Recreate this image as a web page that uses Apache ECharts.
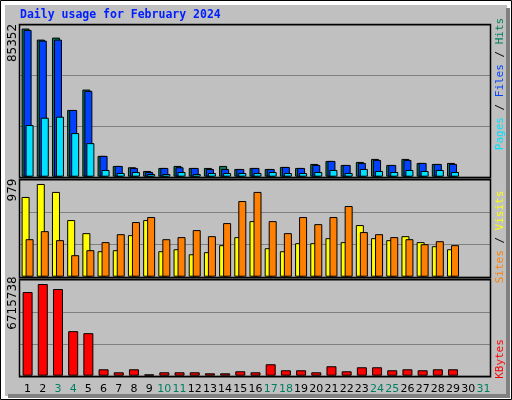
<!DOCTYPE html>
<html><head><meta charset="utf-8">
<script src="https://cdn.jsdelivr.net/npm/echarts@6/dist/echarts.min.js"></script>
<style>html,body{margin:0;padding:0;background:#fff}#c{width:512px;height:400px}</style>
</head><body><div id="c"></div>
<script>
const days = Array.from({length:31},(_,i)=>String(i+1));
const weekend = ['3','4','10','11','17','18','24','25','31'];
const hits  = [85352,78980,80130,38450,50200,11990,6200,5440,3300,5040,6200,5040,5040,6200,4460,5040,4460,5620,5040,7350,9090,6770,8510,10250,6770,10250,7930,7350,7930];
const files = [84530,78400,78980,38450,49450,11990,6200,5040,2720,5040,5440,5040,4460,4460,4460,5040,4460,5620,5040,6770,9090,6770,7930,9670,6770,9670,7930,7350,7350];
const pages = [29760,33990,34570,25130,19340,3880,2140,2720,1560,1560,2720,1560,2140,2140,2140,2140,2720,2140,2140,2720,3880,2140,4460,3300,2720,3880,3300,3880,2720];
const visits = [842,979,895,598,460,269,280,439,598,269,290,237,259,333,418,587,301,269,354,354,407,365,545,407,386,428,365,322,290];
const sites  = [396,481,386,227,280,365,449,577,630,396,418,492,428,566,799,895,587,460,630,555,630,746,471,449,418,396,343,375,333];
const kbytes = [6128000,6715738,6348000,3262000,3115000,470000,250000,470000,100000,250000,250000,250000,176000,176000,323000,250000,838000,397000,397000,250000,690000,323000,617000,617000,397000,470000,397000,470000,470000];
const maxLabels = ['85352','979','6715738'];

const chart = echarts.init(document.getElementById('c'));
const L=20, W=471;
const grids=[{top:25,h:151.7,max:87400},{top:180,h:96.7,max:1021},{top:280,h:95.7,max:7010000}];
const xAxis=grids.map((g,i)=>({type:'category',gridIndex:i,data:days,
  axisLine:{show:false},axisTick:{show:false},
  axisLabel:{show:i===2,margin:8,fontFamily:'DejaVu Sans',fontSize:11,
    color:v=>weekend.includes(v)?'#008060':'#000',interval:0}}));
const yAxis=grids.map((g,i)=>({type:'value',gridIndex:i,min:0,max:g.max,interval:g.max/3,
  axisLabel:{show:false},axisLine:{show:false},axisTick:{show:false},
  splitLine:{show:true,lineStyle:{color:'#808080',width:1}}}));
const bs={borderColor:'#000',borderWidth:1};
const series=[
  {type:'bar',name:'Hits',data:hits,xAxisIndex:0,yAxisIndex:0,barWidth:8,barGap:'-75%',itemStyle:{color:'#00805c',...bs}},
  {type:'bar',name:'Files',data:files,xAxisIndex:0,yAxisIndex:0,barWidth:8,barGap:'-75%',itemStyle:{color:'#0042ff',...bs}},
  {type:'bar',name:'Pages',data:pages,xAxisIndex:0,yAxisIndex:0,barWidth:8,barGap:'-75%',itemStyle:{color:'#00e0ff',...bs}},
  {type:'bar',name:'Visits',data:visits,xAxisIndex:1,yAxisIndex:1,barWidth:8,barGap:'-50%',itemStyle:{color:'#ffff00',...bs}},
  {type:'bar',name:'Sites',data:sites,xAxisIndex:1,yAxisIndex:1,barWidth:8,barGap:'-50%',itemStyle:{color:'#ff8000',...bs}},
  {type:'bar',name:'KBytes',data:kbytes,xAxisIndex:2,yAxisIndex:2,barWidth:10,itemStyle:{color:'#ff0000',...bs}}
];
const g=[
  {type:'rect',z:-10,shape:{x:0.5,y:0.5,width:511,height:399},style:{fill:'#fff',stroke:'#000'}},
  {type:'rect',z:-9,shape:{x:5,y:5,width:502,height:391},style:{fill:'#c0c0c0'}},
  {type:'rect',z:-9,shape:{x:506,y:8,width:4,height:390},style:{fill:'#808080'}},
  {type:'rect',z:-9,shape:{x:8,y:394,width:502,height:4},style:{fill:'#808080'}},
  {type:'text',left:20,top:9,style:{text:'Daily usage for February 2024',fill:'#0020ff',font:'bold 11.5px "DejaVu Sans Mono"'}}
];
grids.forEach((gr,i)=>{
  g.push({type:'rect',z:10,shape:{x:L-0.5,y:gr.top-0.5,width:W,height:gr.h+1.5},style:{fill:'none',stroke:'#000',lineWidth:1.5}});
});
const ycent=[43,190,303];
maxLabels.forEach((t,i)=>g.push({type:'text',x:13,y:ycent[i],rotation:Math.PI/2,
  style:{text:t,fill:'#000',font:'12px "DejaVu Sans"',align:'center',verticalAlign:'middle'}}));
function side(y,parts){
  g.push({type:'text',x:500,y:y,rotation:Math.PI/2,style:{text:parts.map(p=>'{'+p[1]+'|'+p[0]+'}').join(''),
    align:'center',verticalAlign:'middle',font:'11px "DejaVu Sans Mono"',
    rich:Object.fromEntries(parts.map(p=>[p[1],{fill:p[2],font:'11px "DejaVu Sans Mono"'}]))}});
}
side(84,[['Pages','a','#00e0ff'],[' / ','s','#000'],['Files','b','#0042ff'],[' / ','t','#000'],['Hits','c','#00805c']]);
side(237,[['Sites','a','#ff8000'],[' / ','s','#000'],['Visits','b','#ffff00']]);
side(359,[['KBytes','a','#ff0000']]);
chart.setOption({animation:false,backgroundColor:'transparent',
  grid:grids.map(gr=>({left:L,width:W,top:gr.top,height:gr.h})),
  xAxis,yAxis,series,graphic:g});
</script></body></html>
